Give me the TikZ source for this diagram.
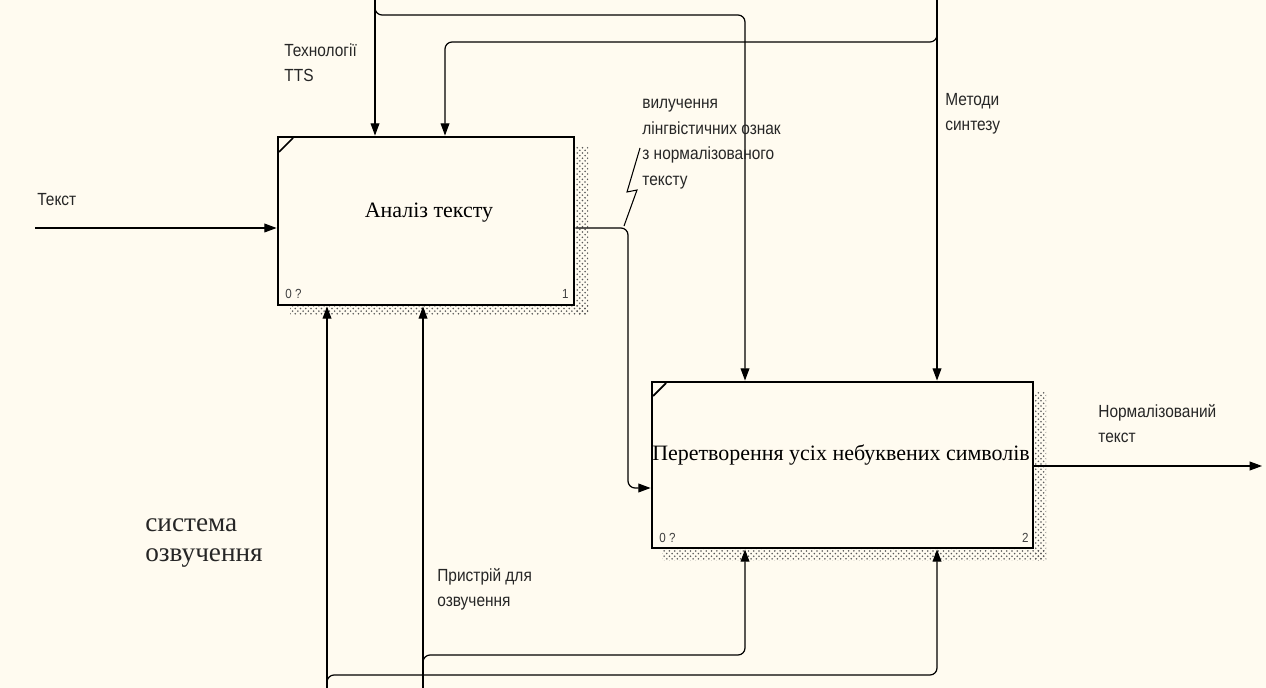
\documentclass[tikz,border=0pt]{standalone}
\usepackage{fontspec}
\setmainfont{Liberation Serif}
\newfontfamily\lblfont[FakeStretch=0.88]{Liberation Sans}
\usetikzlibrary{arrows.meta,patterns}
\definecolor{paper}{RGB}{255,251,240}
\tikzset{
	func/.style={draw,line width=1.6pt,fill=paper,inner sep=0pt},
	functext/.style={font=\fontsize{12.5}{15}\selectfont,inner sep=0pt},
	arr/.style={line width=0.7pt,-{Triangle[length=7pt,width=5pt]}},
	lbl/.style={font=\lblfont\fontsize{10}{14.5}\selectfont,align=left,anchor=north west,inner sep=0pt,text=black!85},
	tag/.style={font=\lblfont\fontsize{7.5}{8}\selectfont,inner sep=0pt,text=black!75},
	hatch/.style={pattern=crosshatch dots,pattern color=black!65},
}
\begin{document}
\begin{tikzpicture}[x=0.02cm,y=-0.02cm]
	\fill[paper] (0,0) rectangle (1266,688);
	\useasboundingbox (0,0) rectangle (1266,688);
	\fill[hatch] (576,147) rectangle (588,315);
	\fill[hatch] (290,306) rectangle (588,315);
	\fill[hatch] (1035,392) rectangle (1046,560);
	\fill[hatch] (662,549) rectangle (1046,560);
	\node[func,minimum width=5.92cm,minimum height=3.36cm] (a1) at (426,221) {};
	\node[func,minimum width=7.62cm,minimum height=3.32cm] (a2) at (842.5,465) {};
	\node[functext] (t1) at (429,213) {Аналіз тексту};
	\node[functext] (t2) at (841,455) {Перетворення усіх небуквених символів};
	\draw[line width=1pt] (279,152) -- (293,138);
	\draw[line width=1pt] (653,396) -- (666,383);
	\node[tag,anchor=south west] (z1) at (285,299) {0 ?};
	\node[tag,anchor=south east] (n1) at (569,299) {1};
	\node[tag,anchor=south west] (z2) at (659,543) {0 ?};
	\node[tag,anchor=south east] (n2) at (1029,543) {2};
	\coordinate (txt) at (35,228);
	\coordinate (j1) at (628,488);
	\coordinate (out) at (1262,466);
	\draw[arr] (txt) -- (txt -| a1.west);
	\draw[arr,rounded corners=4pt] (txt -| a1.east) -| (j1) -- (j1 -| a2.west);
	\draw[arr] (out -| a2.east) -- (out);
	\coordinate (c1) at (375,0);
	\coordinate (k1) at (745,15);
	\coordinate (c2) at (937,0);
	\coordinate (k2) at (445,42);
	\draw[arr] (c1) -- (c1 |- a1.north);
	\draw[arr,rounded corners=4pt] (c1) |- (k1) -- (k1 |- a2.north);
	\draw[arr] (c2) -- (c2 |- a2.north);
	\draw[arr,rounded corners=4pt] (c2) |- (k2) -- (k2 |- a1.north);
	\coordinate (m1) at (327,688);
	\coordinate (k3) at (937,675);
	\coordinate (m2) at (423,688);
	\coordinate (k4) at (745,655);
	\draw[arr] (m1) -- (m1 |- a1.south);
	\draw[arr,rounded corners=4pt] (m1) |- (k3) -- (k3 |- a2.south);
	\draw[arr] (m2) -- (m2 |- a1.south);
	\draw[arr,rounded corners=4pt] (m2) |- (k4) -- (k4 |- a2.south);
	\node[lbl] (l1) at (37,193) {Текст};
	\node[lbl] (l2) at (284,43) {Технології\\TTS};
	\node[lbl] (l3) at (642,99) {вилучення\\лінгвістичних ознак\\з нормалізованого\\тексту};
	\node[lbl] (l4) at (945,93) {Методи\\синтезу};
	\node[lbl] (l5) at (1098,404) {Нормалізований\\текст};
	\node[lbl] (l6) at (437,568) {Пристрій для\\озвучення};
	\node[font=\fontsize{15.5}{17.5}\selectfont,align=left,anchor=north west,inner sep=0pt,text=black!85] (l7) at (145,518) {система\\озвучення};
	\draw[line width=0.6pt] (624,226) -- (637,190) -- (627,192) -- (640,148);
\end{tikzpicture}
\end{document}
